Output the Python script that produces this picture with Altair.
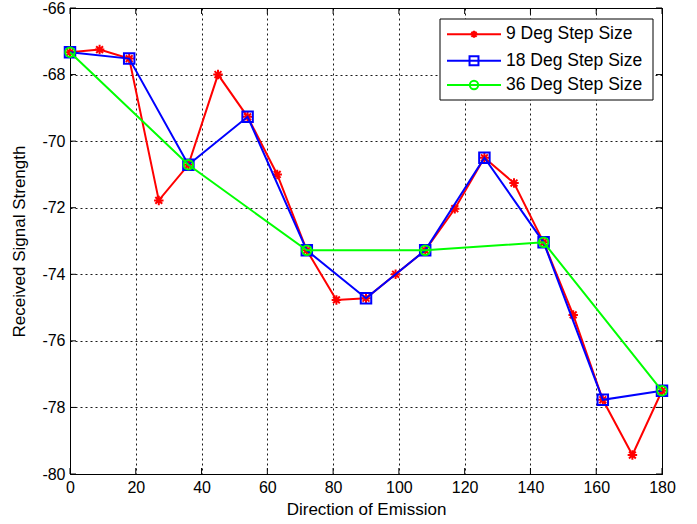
import altair as alt
import pandas as pd

# ---- data ----
x9 = [0, 9, 18, 27, 36, 45, 54, 63, 72, 81, 90, 99, 108, 117, 126, 135, 144, 153, 162, 171, 180]
y9 = [-67.33, -67.25, -67.52, -71.78, -70.71, -68.0, -69.27, -71.0, -73.28, -74.77, -74.72,
      -74.0, -73.28, -72.03, -70.5, -71.26, -73.04, -75.22, -77.77, -79.43, -77.5]
x18 = [0, 18, 36, 54, 72, 90, 108, 126, 144, 162, 180]
y18 = [-67.33, -67.52, -70.71, -69.27, -73.28, -74.72, -73.28, -70.5, -73.04, -77.77, -77.5]
x36 = [0, 36, 72, 108, 144, 180]
y36 = [-67.33, -70.71, -73.28, -73.28, -73.04, -77.5]

series_names = ["9 Deg Step Size", "18 Deg Step Size", "36 Deg Step Size"]
series_colors = ["#FF0000", "#0000FF", "#00FF00"]
x_ticks = [0, 20, 40, 60, 80, 100, 120, 140, 160, 180]
y_ticks = [-80, -78, -76, -74, -72, -70, -68, -66]

LEFT, TOP = 70, 8
W, H = 592, 466
FONT = "Liberation Sans"

ASTERISK = "M-1,0L1,0M0,-1L0,1M-0.72,-0.72L0.72,0.72M-0.72,0.72L0.72,-0.72"

df9 = pd.DataFrame({"x": x9, "y": y9})
df18 = pd.DataFrame({"x": x18, "y": y18})
df36 = pd.DataFrame({"x": x36, "y": y36})
dfxt = pd.DataFrame({"x": x_ticks})
dfyt = pd.DataFrame({"y": y_ticks})
one = pd.DataFrame({"a": [0]})

xaxis = alt.Axis(values=x_ticks, title="Direction of Emission", grid=True, ticks=False,
                 domain=False, labelPadding=5, titlePadding=6, labelFlush=False,
                 labelOverlap=False, labelExpr="'' + datum.value")
yaxis = alt.Axis(values=y_ticks, title="Received Signal Strength", grid=True, ticks=False,
                 domain=False, labelPadding=5, titlePadding=13, labelFlush=False,
                 labelOverlap=False, labelExpr="'' + datum.value")
xscale = alt.Scale(domain=[0, 180], nice=False, zero=False)
yscale = alt.Scale(domain=[-80, -66], nice=False, zero=False)


def X(f="x"):
    return alt.X(f + ":Q", scale=xscale, axis=xaxis)


def Y(f="y"):
    return alt.Y(f + ":Q", scale=yscale, axis=yaxis)


layers = []

# inward ticks on all four sides
TL = 6
layers.append(alt.Chart(dfxt).mark_rule(color="black", strokeWidth=1).encode(
    x=X(), y=alt.value(H), y2=alt.value(H - TL)))
layers.append(alt.Chart(dfxt).mark_rule(color="black", strokeWidth=1).encode(
    x=X(), y=alt.value(0), y2=alt.value(TL)))
layers.append(alt.Chart(dfyt).mark_rule(color="black", strokeWidth=1).encode(
    y=Y(), x=alt.value(0), x2=alt.value(TL)))
layers.append(alt.Chart(dfyt).mark_rule(color="black", strokeWidth=1).encode(
    y=Y(), x=alt.value(W - TL), x2=alt.value(W)))

# red series
layers.append(alt.Chart(df9).mark_line(color=series_colors[0], strokeWidth=2).encode(x=X(), y=Y()))
layers.append(alt.Chart(df9).mark_point(shape=ASTERISK, filled=False, color=series_colors[0],
                                        size=90, strokeWidth=2, opacity=1).encode(x=X(), y=Y()))
# blue series
layers.append(alt.Chart(df18).mark_line(color=series_colors[1], strokeWidth=2).encode(x=X(), y=Y()))
layers.append(alt.Chart(df18).mark_point(shape="square", filled=False, color=series_colors[1],
                                         size=110, strokeWidth=2, opacity=1).encode(x=X(), y=Y()))
# green series
layers.append(alt.Chart(df36).mark_line(color=series_colors[2], strokeWidth=2).encode(x=X(), y=Y()))
layers.append(alt.Chart(df36).mark_point(shape="circle", filled=False, color=series_colors[2],
                                         size=90, strokeWidth=2, opacity=1).encode(x=X(), y=Y()))

# legend (positions relative to the plot area)
layers.append(alt.Chart(one).mark_rect(fill="white", stroke="black", strokeWidth=1).encode(
    x=alt.value(440 - LEFT), x2=alt.value(653 - LEFT), y=alt.value(19 - TOP), y2=alt.value(100 - TOP)))
legend_y = [34.3 - TOP, 60.7 - TOP, 85 - TOP]
shapes = [ASTERISK, "square", "circle"]
sizes = [50, 80, 70]
for name, col, ly, shp, sz in zip(series_names, series_colors, legend_y, shapes, sizes):
    layers.append(alt.Chart(one).mark_rule(color=col, strokeWidth=2).encode(
        x=alt.value(447 - LEFT), x2=alt.value(501 - LEFT), y=alt.value(ly)))
    layers.append(alt.Chart(one).mark_point(shape=shp, filled=False, color=col, size=sz,
                                            strokeWidth=2, opacity=1).encode(
        x=alt.value(474 - LEFT), y=alt.value(ly)))
    layers.append(alt.Chart(one).mark_text(text=name, align="left", baseline="middle",
                                           font=FONT, fontSize=17.5, color="black").encode(
        x=alt.value(506 - LEFT), y=alt.value(ly)))

chart = alt.layer(*layers).properties(
    width=W, height=H,
    autosize=alt.AutoSizeParams(type="none"),
    padding={"left": LEFT, "top": TOP, "right": 697 - LEFT - W, "bottom": 524 - TOP - H},
    background="white",
).configure_view(
    stroke="black", strokeWidth=1
).configure_axis(
    labelFont=FONT, titleFont=FONT, labelFontSize=16, titleFontSize=17,
    labelColor="black", titleColor="black", titleFontWeight="normal",
    gridColor="black", gridDash=[2, 3], gridWidth=1, gridOpacity=0.9,
)

chart.save("out.html", embed_options={"renderer": "svg", "actions": False})
